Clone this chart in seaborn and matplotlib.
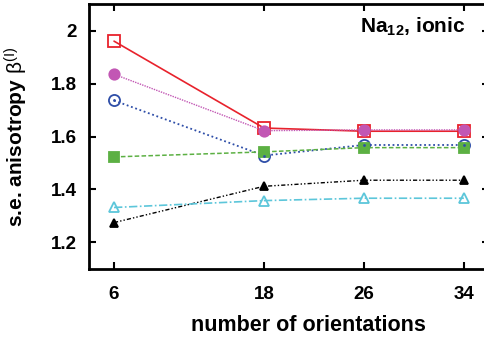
import matplotlib
matplotlib.use("Agg")
import matplotlib.pyplot as plt
import seaborn as sns
import pandas as pd

orientations = [6, 18, 26, 34]
red_sq = [1.96, 1.632, 1.620, 1.620]
mag_circ = [1.835, 1.622, 1.625, 1.625]
blue_circ = [1.736, 1.528, 1.568, 1.568]
green_sq = [1.523, 1.542, 1.558, 1.558]
black_tri = [1.275, 1.412, 1.435, 1.435]
cyan_tri = [1.332, 1.358, 1.367, 1.367]
xticks = [6, 18, 26, 34]
yticks = [1.2, 1.4, 1.6, 1.8, 2.0]
yticklabels = ["1.2", "1.4", "1.6", "1.8", "2"]

sns.set_theme(style="ticks")
plt.rcParams['font.family'] = ['Liberation Sans', 'DejaVu Sans']
plt.rcParams['mathtext.fontset'] = 'custom'
plt.rcParams['mathtext.rm'] = 'Liberation Sans'
plt.rcParams['mathtext.it'] = 'Liberation Sans:italic'
plt.rcParams['mathtext.bf'] = 'Liberation Sans:bold'
for k in ['text.color', 'axes.labelcolor', 'xtick.color', 'ytick.color',
          'axes.edgecolor']:
    plt.rcParams[k] = 'black'

fig = plt.figure(figsize=(4.84, 3.4), dpi=100)
ax = fig.add_axes([0.184, 0.209, 0.826, 0.779])

series = [
    (red_sq, "#e8222c", "-", "s", "none", 8.5, 1.2),
    (mag_circ, "#c257b4", (0, (1, 0.8)), "o", "#c257b4", 7.5, 1.0),
    (blue_circ, "#2e4ea8", (0, (1, 1.5)), "o", "none", 8, 1.3),
    (green_sq, "#5cb043", (0, (3, 1.5)), "s", "#5cb043", 6.5, 1.1),
    (black_tri, "#000000", (0, (3, 1.5, 1, 1.5, 1, 1.5)), "^", "#000000", 5.5, 1.0),
    (cyan_tri, "#5cc6da", (0, (5, 1.5, 1, 1.5)), "^", "none", 7, 1.2),
]

for vals, col, ls, mk, mfc, ms, lw in series:
    df = pd.DataFrame({"x": orientations, "y": vals})
    sns.lineplot(data=df, x="x", y="y", ax=ax, color=col, linestyle=ls, lw=lw,
                 marker=mk, markersize=ms, markerfacecolor=mfc,
                 markeredgecolor=col, markeredgewidth=1.3)

# center dots of the blue open circles
sns.scatterplot(x=orientations, y=blue_circ, ax=ax, color="#2e4ea8", s=4,
                linewidth=0, zorder=5)

ax.set_xlim(4, 36)
ax.set_ylim(1.1, 2.1)
ax.set_xticks(xticks)
ax.set_xticklabels([str(v) for v in xticks], fontsize=13.5, fontweight="bold")
ax.set_yticks(yticks)
ax.set_yticklabels(yticklabels, fontsize=13.5, fontweight="bold")
ax.tick_params(axis="x", direction="in", top=True, length=5, width=1.5, pad=12)
ax.tick_params(axis="y", direction="in", right=True, length=5, width=1.5, pad=9)
for s in ax.spines.values():
    s.set_linewidth(2)
    s.set_visible(True)

ax.set_xlabel("number of orientations", fontsize=15.5, fontweight="bold",
              labelpad=6)
ax.xaxis.set_label_coords(0.55, -0.175)
ax.set_ylabel(r"s.e. anisotropy $\mathrm{\beta}^{(\mathrm{I})}$", fontsize=15,
              fontweight="bold", labelpad=6)
ax.yaxis.set_label_coords(-0.148, 0.5)
ax.text(0.942, 0.955, r"Na$_{\mathbf{12}}$, ionic", transform=ax.transAxes,
        ha="right", va="top", fontsize=15, fontweight="bold")

fig.savefig("out.png", dpi=100)
